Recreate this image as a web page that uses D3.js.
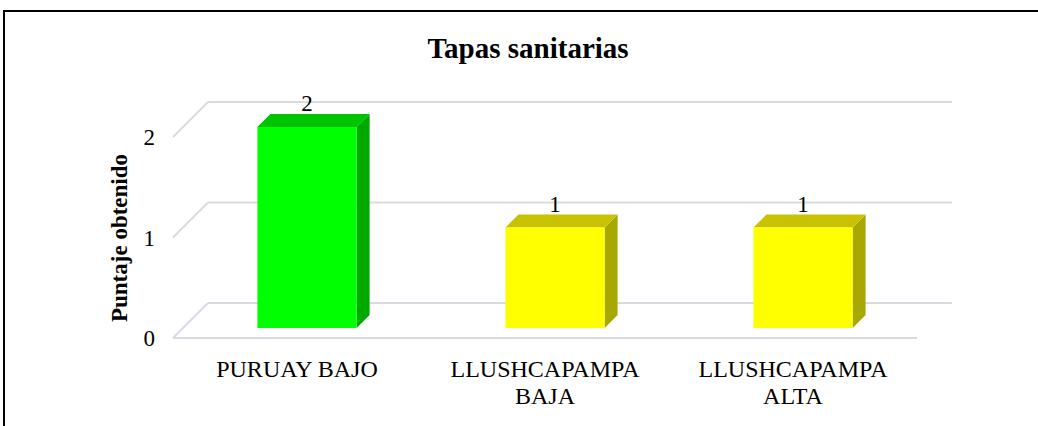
<!DOCTYPE html>
<html lang="en">
<head>
<meta charset="utf-8">
<script src="https://d3js.org/d3.v7.min.js"></script>
<title>Tapas sanitarias</title>
<style>
  body { margin: 0; background: #fff; }
  text { font-family: "Liberation Serif", "Times New Roman", serif; fill: #000; }
</style>
</head>
<body>
<div id="chart"></div>
<script>
  // data
  const categories = [["PURUAY BAJO"], ["LLUSHCAPAMPA", "BAJA"], ["LLUSHCAPAMPA", "ALTA"]];
  const values = [2, 1, 1];
  const yTicks = [0, 1, 2];
  const faceColors = [
    {front: "#00ff00", top: "#00c400", side: "#00a800"},
    {front: "#ffff00", top: "#c8c200", side: "#a9a800"},
    {front: "#ffff00", top: "#c8c200", side: "#a9a800"}
  ];

  const W = 1038, H = 426;
  const DEPTH = 35;           // 3d offset of the back wall
  const barFront = 10, barBack = 23;

  const svg = d3.select("#chart").append("svg").attr("width", W).attr("height", H);

  // outer frame (only top and left visible)
  svg.append("rect").attr("x", 4).attr("y", 11).attr("width", 1200).attr("height", 600)
     .attr("fill", "none").attr("stroke", "#000").attr("stroke-width", 2);

  const x = d3.scaleBand().domain(d3.range(categories.length)).range([173, 917])
              .paddingInner(0.6).paddingOuter(0.3);
  const y = d3.scaleLinear().domain([0, 2]).range([338, 137]);

  // gridlines: back wall + diagonal on side wall
  const grid = svg.append("g");
  const gc = "#d9dbe3";
  yTicks.forEach(t => {
    grid.append("line").attr("x1", 173).attr("y1", y(t)).attr("x2", 173 + DEPTH).attr("y2", y(t) - DEPTH)
        .attr("stroke", gc).attr("stroke-width", 2);
    grid.append("line").attr("x1", 173 + DEPTH).attr("y1", y(t) - DEPTH).attr("x2", 917 + DEPTH).attr("y2", y(t) - DEPTH)
        .attr("stroke", gc).attr("stroke-width", 2);
  });
  // floor front edge
  grid.append("line").attr("x1", 173).attr("y1", y(0)).attr("x2", 917).attr("y2", y(0))
      .attr("stroke", gc).attr("stroke-width", 2);

  // tick labels
  svg.append("g").selectAll("text").data(yTicks).join("text")
     .attr("x", 155).attr("y", d => y(d)).attr("dy", "0.35em")
     .attr("text-anchor", "end").style("font-size", "23px").text(d => d);

  // bars
  const bars = svg.append("g").selectAll("g").data(values).join("g");
  bars.each(function(v, i) {
    const g = d3.select(this);
    const x0 = x(i) + barFront, x1 = x0 + x.bandwidth();
    const yb = y(0) - barFront, yt = y(v) - barFront;
    const d = barBack - barFront;
    const c = faceColors[i];
    g.append("path").attr("d", `M${x1},${yb}L${x1 + d},${yb - d}L${x1 + d},${yt - d}L${x1},${yt}Z`)
     .attr("fill", c.side);
    g.append("path").attr("d", `M${x0},${yt}L${x0 + d},${yt - d}L${x1 + d},${yt - d}L${x1},${yt}Z`)
     .attr("fill", c.top);
    g.append("rect").attr("x", x0).attr("y", yt).attr("width", x1 - x0).attr("height", yb - yt)
     .attr("fill", c.front);
    g.append("text").attr("x", (x0 + x1) / 2).attr("y", yt - d - 3)
     .attr("text-anchor", "middle").style("font-size", "23px").text(v);
  });

  // category labels
  svg.append("g").selectAll("text").data(categories).join("text")
     .attr("x", (d, i) => x(i) + x.bandwidth() / 2)
     .attr("y", 377)
     .attr("text-anchor", "middle").style("font-size", "24px")
     .each(function(lines) {
       const t = d3.select(this);
       lines.forEach((l, k) => t.append("tspan").attr("x", t.attr("x")).attr("dy", k ? 27 : 0).text(l));
     });

  // titles
  svg.append("text").attr("x", 528).attr("y", 58).attr("text-anchor", "middle")
     .style("font-size", "29px").style("font-weight", "bold").text("Tapas sanitarias");
  svg.append("text").attr("transform", "translate(127,238) rotate(-90)").attr("text-anchor", "middle")
     .style("font-size", "23px").style("font-weight", "bold").text("Puntaje obtenido");
</script>
</body>
</html>
